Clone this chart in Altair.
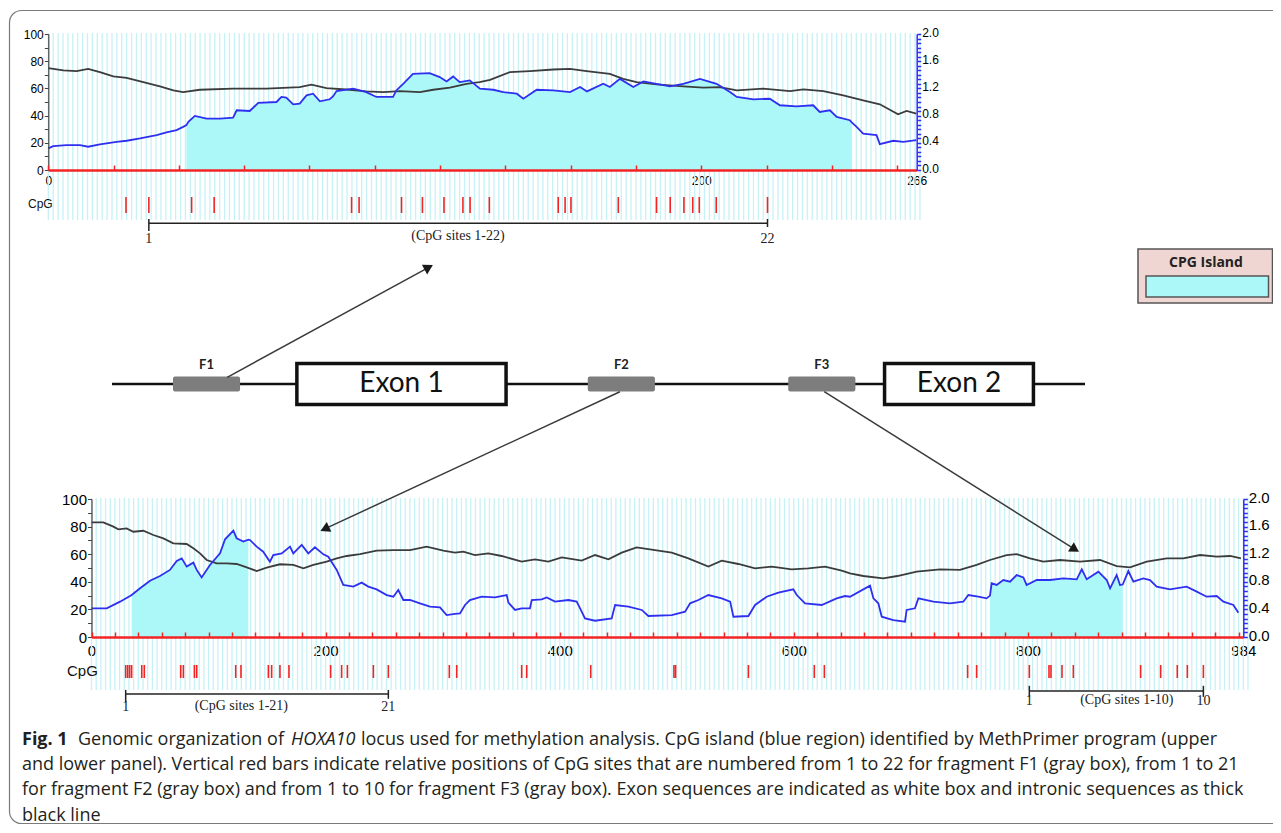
import math
import altair as alt
import pandas as pd

W, H = 1265, 817

# ------------------------------------------------------------------
# DATA
# ------------------------------------------------------------------
# upper panel: fragment F1 region, 266 bp
top_len = 266
top_black_pos = [0, 4.6, 8.7, 12.2, 15.8, 19.9, 24, 29.1, 34.2, 38.3,
                 41.3, 46.4, 56.6, 66.8, 77, 80.6, 85.2, 92.3, 97.4, 102.6,
                 107.7, 113.8, 117.9, 123, 128.1, 132.1, 135.3, 141.4, 147.5, 154.7,
                 159.8, 164.9, 172, 176.1, 180.2, 186.3, 194.5, 200.6, 205.7, 210.9,
                 219, 227.2, 231.3, 237.4, 243.5, 249.6, 254.7, 260.3, 262.9, 265.9]
top_black_gc = [74.9, 73.2, 72.7, 74.4, 72, 68.8, 67.8, 64.6, 61.5, 58.5,
                57.3, 59, 59.8, 59.8, 61, 62.7, 60.2, 59, 57.8, 57.3,
                58, 57.3, 59, 60.5, 63.4, 64.6, 66.3, 72, 72.7, 73.9,
                74.4, 72.7, 70.7, 67, 64.6, 62.9, 61.5, 60.5, 61, 58.5,
                59.8, 58, 59.3, 58, 54.9, 51.2, 48.3, 41, 43.4, 41.5]
# blue curve, read against the left (0-100) axis; right axis = left / 50
top_blue_pos = [0, 1.5, 5.6, 9.7, 12.2, 15.8, 20.9, 24, 28.1, 33.2,
                36.2, 39.3, 41.3, 42.3, 42.9, 44.9, 48.5, 52.6, 56.6, 57.7,
                61.7, 64.3, 69.9, 71.4, 72.9, 75, 77, 79.1, 81.1, 83.2,
                86.2, 87.2, 88.3, 93.4, 97.4, 100.5, 105.6, 106.6, 108.7, 111.7,
                116.8, 119.9, 122, 124, 126, 129.1, 132.2, 136.3, 139.4, 143.5,
                145.5, 149.6, 154.7, 159.8, 162.9, 165, 170, 172, 175.1, 179.2,
                182.3, 186.3, 190.4, 194.5, 199.6, 204.7, 208.8, 210.9, 216, 221,
                224.1, 229.2, 234.3, 236.3, 239.4, 241.5, 245.5, 246.1, 247.6, 249.6,
                253.7, 254.7, 258.8, 261.9, 265.9]
top_blue_read = [15.9, 17.6, 18.3, 18.3, 17.1, 18.8, 20.7, 21.5, 23.2, 25.6,
                 27.6, 29.3, 31.7, 33.0, 35.4, 39.8, 37.8, 37.8, 38.5, 43.9,
                 43.4, 49.3, 50, 53.7, 53.2, 48.3, 48.8, 54.9, 56.1, 50.5,
                 52, 54.1, 58, 59.8, 57.3, 53.7, 53.7, 58.5, 63.4, 70.7,
                 71.2, 68.3, 65.1, 68.8, 64.6, 65.9, 59.8, 59, 57.3, 56.1,
                 52.4, 59, 58.5, 57.3, 61, 57.8, 63.4, 61, 67, 61,
                 65.1, 63.4, 61.5, 63.4, 67, 63.4, 57.3, 53.7, 52, 52.4,
                 47.6, 46.8, 47.6, 42.7, 43.9, 39, 36.6, 35.0, 31.7, 26.8,
                 25.6, 19, 21.5, 20.7, 22]
top_islands = [(42.3, 246.1)]
top_cpg = [23.8, 30.8, 43.9, 50.8, 92.9, 95.2, 108.2, 114.6, 121.2, 127.0,
           129.2, 135.1, 156.2, 158.3, 160.1, 174.6, 186.3, 190.5, 194.7, 197.4,
           199.4, 204.6, 220.3]
top_xlabels = [0, 200, 266]

# lower panel: fragments F2 / F3 region, 984 bp
bot_len = 984
bot_black_pos = [0, 10.1, 18.7, 22.9, 30, 35.7, 44.3, 52.8, 61.4, 69.9,
                 81.3, 87, 92.7, 98.4, 107, 115.5, 124, 132.6, 141.1, 149.6,
                 161, 172.4, 181, 189.5, 200.9, 209.5, 218, 229.4, 243.6, 257.9,
                 272.1, 286.3, 300.6,
                 310.5, 317.7, 327.6, 339, 350.4, 367.5, 378.9, 390.3, 401.7, 418.8,
                 430.2, 441.6, 453, 465.7, 481.4, 495.7, 509.9, 527, 538.4, 552.6,
                 566.9, 581.1, 598.2, 612.4, 626.7, 640.9,
                 648, 659.4, 676.4, 688.4, 705, 725, 741.9, 756.2, 767.6, 781.8,
                 790.4, 801.8, 813.2, 827.4, 844.5, 861.6, 875.8, 887.2, 901.5, 918.6,
                 932.8, 947.1, 961.3, 972.7, 982]
bot_black_gc = [83.1, 83.1, 80, 78, 78.7, 76.3, 77, 73.9, 71.5, 67.9,
                67.4, 64.3, 60.6, 55.8, 53.4, 53.4, 52.9, 50.5, 47.8, 50.2,
                52.7, 52.2, 49.8, 52.2, 54.6, 57, 58.7, 60.1, 62.6, 63,
                63, 65.5, 62.6,
                61.1, 61.8, 59.4, 60.6, 58.7, 54.6, 56.3, 54.6, 57.7, 55.3,
                59.4, 56.3, 61.1, 65, 63, 61.1, 57, 51, 55.3, 52.9,
                49.8, 51, 49, 49.8, 51, 48.1,
                46.1, 44.2, 42.5, 44.2, 47.3, 49, 48.6, 52.2, 55.8, 59.4,
                60.1, 57, 54.6, 55.8, 54.6, 55.8, 51.4, 50.5, 54.6, 57,
                57, 59.4, 58.2, 58.7, 57]
bot_blue_pos = [0, 13, 24.4, 32.9, 34.3, 41.5, 50, 58.5, 67, 72.8,
                77.1, 81.3, 87, 89.9, 94.1, 101.2, 109.8, 114.1, 121.2, 124,
                129.7, 134, 135.4, 141.1, 146.7, 152.4, 155.3, 162.5, 169.6, 172.4,
                179.6, 185.2, 190.9, 198.1, 202.3, 209.5, 215.1, 223.7, 230.8, 236.5,
                243.6, 252.2, 257.9, 262.1, 266.4, 272.1, 280.6, 289.2, 297.7, 303.4,
                310.5, 314.8, 319.1, 323.3, 333.3, 344.7, 354.7, 356.2, 361.8, 367.5,
                374.6, 376.1, 384.6, 388.9, 396, 407.4, 414.5, 417.4, 421.6, 430.2,
                444.4, 447.3, 458.7, 470.1, 475.7, 495.7, 507.1, 511.4, 518.5, 527,
                538.4, 545.6, 548.4, 561.2, 566.9, 576.8, 586.8, 599.6, 602.5, 609.6,
                623.8, 636.6, 643.7,
                648, 665.1, 668, 672.2, 675.1, 685, 695, 696.4, 703.5, 706.4,
                719.2, 733.4, 744.8, 749.1, 757.6, 764.7, 767.6, 769, 773.3, 779,
                784.7, 790.4, 796.1, 798.9, 807.5, 818.9, 830.3, 841.7, 846, 850.2,
                860.2, 867.3, 870.2, 875.8, 878.7, 881, 885.8, 890.1, 898.6, 904.3,
                910, 921.4, 935.6, 944.2, 952.7, 961.3, 967, 975.5, 979.8]
bot_blue_read = [20.8, 20.8, 25.6, 29.7, 30.5, 35.3, 40.8, 44.2, 48.6, 55.1,
                 57, 51, 53.9, 48.6, 43.2, 52.2, 60.6, 70.8, 77.1, 71.5,
                 69.1, 70.5, 70.3, 65.5, 61.8, 54.6, 59.4, 60.6, 65.5, 60.6,
                 66.7, 60.6, 65, 59.9, 58.2, 48.6, 37.7, 36.5, 39.4, 36.5,
                 34.5, 30.4, 29.2, 34, 26.8, 26.8, 24.4, 22, 21.5, 15.9,
                 16.7, 17.1, 23.2, 26.8, 29.2, 28.7, 30.4, 24.9, 19.6, 20.8,
                 20.8, 26.8, 27.3, 28.7, 25.6, 26.8, 25.6, 20.8, 13.5, 11.8,
                 13.5, 23.2, 22, 19.6, 15.2, 15.9, 18.4, 24.4, 26.8, 30.4,
                 28, 25.6, 14.7, 15.2, 23.2, 29.2, 32.1, 34.5, 30.4, 24.4,
                 23.2, 28, 29.7,
                 29.2, 37.2, 28, 24.4, 14.7, 12.3, 11.1, 19.6, 20.8, 28,
                 25.6, 24.4, 25.6, 30.4, 29.2, 28, 30, 38.9, 37.7, 41.3,
                 40.1, 44.9, 43.2, 37.7, 41.3, 41.3, 42.5, 41.8, 49, 41.8,
                 47.3, 41.3, 35.3, 44.9, 37.7, 38, 47.8, 40.1, 42.5, 41.3,
                 36.5, 34.5, 36.5, 32.9, 29.2, 29.7, 25.6, 23.2, 17.6]
bot_islands = [(34.3, 134), (767.6, 881)]
bot_cpg = [29.2, 30.9, 32.6, 34.3, 42.9, 45.1, 76.2, 78.5, 87.9, 89.9,
           123.2, 127.7, 151.1, 153.9, 161, 168.7, 204.3, 213.7, 218.6, 240.8,
           253.6, 305.7, 312.0, 367.5, 371.8, 426.5, 497.6, 499, 561.2, 617.5,
           626.1, 748.5, 756.2, 801.2, 818, 819.7, 829.1, 838.8, 896.3, 913.4,
           927.6, 936.2, 949.9]
bot_xlabels = [0, 200, 400, 600, 800, 984]

# CpG-site brackets: (first site index, last site index, label, end labels, label centre)
top_brackets = [(1, 22, "(CpG sites 1-22)", "1", "22", 125.5)]
bot_brackets = [(0, 20, "(CpG sites 1-21)", "1", "21", 128.0),
                (33, 42, "(CpG sites 1-10)", "1", "10", 884.5)]

# gene diagram (schematic units along the locus, 0-100)
intron_span = [0, 100]
fragments = ["F1", "F2", "F3"]
frag_start = [6.27, 48.9, 69.5]
frag_end = [13.16, 55.8, 76.4]
exons = ["Exon 1", "Exon 2"]
exon_start = [19.0, 79.4]
exon_end = [40.5, 94.7]
# arrows from fragment to panel (schematic x, vertical offset from the line)
arrow_x0 = [11.84, 52.2, 73.2]
arrow_y0 = [0.67, -0.77, -0.77]
arrow_x1 = [33.0, 21.4, 99.4]
arrow_y1 = [11.9, -14.7, -16.8]

caption_lines = [
    "and lower panel). Vertical red bars indicate relative positions of CpG sites that are numbered from 1 to 22 for fragment F1 (gray box), from 1 to 21",
    "for fragment F2 (gray box) and from 1 to 10 for fragment F3 (gray box). Exon sequences are indicated as white box and intronic sequences as thick",
    "black line",
]

# ------------------------------------------------------------------
# STYLE
# ------------------------------------------------------------------
NARROW = "Liberation Sans Narrow, Arial Narrow, Liberation Sans, Arial, sans-serif"
SERIF = "Liberation Serif, Times New Roman, DejaVu Serif, serif"
SANS = "Open Sans, Noto Sans, sans-serif"
LATO = "Lato, Open Sans, sans-serif"
RED = "#f52424"
BLUE = "#2f2ff0"
DARK = "#3c3c3c"
CYAN = "#acf8f8"
STRIPE = "#c6f2f6"

PX = alt.Scale(domain=[0, W], range=[0, W], nice=False, zero=False)
PY = alt.Scale(domain=[0, H], range=[0, H], nice=False, zero=False)


def sc(dom, rng):
    return alt.Scale(domain=dom, range=rng, nice=False, zero=False)


def page_text(rows, **kw):
    df = pd.DataFrame(rows, columns=["x", "y", "t"])
    return alt.Chart(df).mark_text(baseline="middle", **kw).encode(
        x=alt.X("x:Q", scale=PX, axis=None),
        y=alt.Y("y:Q", scale=PY, axis=None),
        text="t:N")


def panel(cfg):
    L = []
    xsc = sc([0, cfg["len"]], cfg["xr"])
    gsc = sc([0, 100], cfg["yr"])
    osc = alt.Scale(domain=[0, 2], range=cfg["yr"], nice=False, zero=True)
    tsc = sc([0, 1], cfg["tr"])
    fs = cfg["fs"]

    # background stripes
    n = int(cfg["len"] / cfg["step"]) + 2
    sdf = pd.DataFrame({"x": [i * cfg["step"] for i in range(n)]})
    sdf["lo"] = cfg["slo"]
    sdf["hi"] = cfg["shi"]
    L.append(alt.Chart(sdf).mark_rule(color=STRIPE, strokeWidth=1.3).encode(
        x=alt.X("x:Q", scale=xsc, axis=None),
        y=alt.Y("lo:Q", scale=gsc, axis=None), y2="hi:Q"))

    blue = pd.DataFrame({"x": cfg["bpos"], "r": [v / 50 for v in cfg["bval"]]})
    # CpG island fill (one area per island)
    for a, b in cfg["islands"]:
        seg = blue[(blue.x >= a) & (blue.x <= b)].copy()
        L.append(alt.Chart(seg).mark_area(color=CYAN, opacity=1).encode(
            x=alt.X("x:Q", scale=xsc, axis=None),
            y=alt.Y("r:Q", scale=osc, axis=None, stack=None)))

    # black curve with left axis and x labels
    kdf = pd.DataFrame({"x": cfg["kpos"], "v": cfg["kval"]})
    L.append(alt.Chart(kdf).mark_line(color=DARK, strokeWidth=1.8).encode(
        x=alt.X("x:Q", scale=xsc, axis=alt.Axis(
            orient="bottom", offset=-(H - cfg["yr"][0]), values=cfg["xlabels"],
            domain=False, ticks=False, labelFont=NARROW, labelFontSize=fs,
            labelColor="black", labelPadding=cfg["xpad"], grid=False, title=None,
            labelOverlap=False, labelFlush=False)),
        y=alt.Y("v:Q", scale=gsc, axis=alt.Axis(
            orient="left", offset=-cfg["xr"][0], values=list(range(0, 101, 10)),
            labelExpr="datum.value % 20 == 0 ? datum.label : ''",
            domainColor="#444", domainWidth=1.2, tickColor="#444", tickSize=4,
            tickWidth=1, labelFont=NARROW, labelFontSize=fs, labelColor="black",
            labelPadding=1, grid=False, title=None, labelOverlap=False, zindex=1))))

    # blue curve with right axis and red position axis
    rvals = [round(i * 2 / 30, 4) for i in range(31)]
    L.append(alt.Chart(blue).mark_line(color=BLUE, strokeWidth=1.8).encode(
        x=alt.X("x:Q", scale=xsc, axis=alt.Axis(
            orient="top", offset=-cfg["yr"][0],
            values=list(range(0, cfg["len"] + 1, 20)), labels=False,
            domainColor=RED, domainWidth=2.5, tickColor=RED, tickWidth=1.5,
            tickSize=5, grid=False, title=None, zindex=2)),
        y=alt.Y("r:Q", scale=osc, axis=alt.Axis(
            orient="right", offset=-(W - cfg["xr"][1]), values=rvals,
            labelExpr="round(datum.value*15) % 6 == 0 ? format(datum.value, '.1f') : ''",
            domainColor=BLUE, domainWidth=1.5, tickColor=BLUE, tickWidth=1.5,
            tickSize=4, labelFont=NARROW, labelFontSize=fs, labelColor="black",
            labelPadding=1, labelOffset=-2, grid=False, title=None, labelOverlap=False,
            zindex=2))))

    # CpG sites
    cdf = pd.DataFrame({"x": cfg["cpg"]})
    cdf["a"] = 0
    cdf["b"] = 1
    L.append(alt.Chart(cdf).mark_rule(color=RED, strokeWidth=1.6).encode(
        x=alt.X("x:Q", scale=xsc, axis=None),
        y=alt.Y("a:Q", scale=tsc, axis=None), y2="b:Q"))

    # brackets
    for (i0, i1, lab, l0, l1, lx), g in zip(cfg["brackets"], cfg["bgeom"]):
        x0, x1 = cfg["cpg"][i0], cfg["cpg"][i1]
        ly, t0a, t0b, t1a, t1b, ny, ty = g
        hdf = pd.DataFrame({"a": [x0], "b": [x1], "y": [ly]})
        L.append(alt.Chart(hdf).mark_rule(color="#222", strokeWidth=1.5).encode(
            x=alt.X("a:Q", scale=xsc, axis=None), x2="b:Q",
            y=alt.Y("y:Q", scale=tsc, axis=None)))
        edf = pd.DataFrame({"x": [x0, x1], "lo": [t0a, t1a], "hi": [t0b, t1b]})
        L.append(alt.Chart(edf).mark_rule(color="#222", strokeWidth=1.5).encode(
            x=alt.X("x:Q", scale=xsc, axis=None),
            y=alt.Y("lo:Q", scale=tsc, axis=None), y2="hi:Q"))
        ndf = pd.DataFrame({"x": [x0, x1, lx], "y": [ny, ny, ty], "t": [l0, l1, lab]})
        L.append(alt.Chart(ndf).mark_text(font=SERIF, fontSize=cfg["sfs"], color="#222",
                                          baseline="middle").encode(
            x=alt.X("x:Q", scale=xsc, axis=None),
            y=alt.Y("y:Q", scale=tsc, axis=None), text="t:N"))
    return L


top_cfg = dict(len=top_len, xr=[40.3, 908.7], yr=[162, 26], tr=[205, 189], fs=12, sfs=14,
               step=1.5, slo=-36.8, shi=100.7, xpad=5,
               kpos=top_black_pos, kval=top_black_gc, bpos=top_blue_pos, bval=top_blue_read,
               islands=top_islands, cpg=top_cpg, xlabels=top_xlabels,
               brackets=top_brackets,
               bgeom=[(-0.64, -0.375, -1.125, -0.375, -0.875, -1.6, -1.45)])
bot_cfg = dict(len=bot_len, xr=[83.5, 1235.3], yr=[629, 491], tr=[670, 657], fs=15, sfs=14,
               step=4, slo=-38.4, shi=100.7, xpad=6,
               kpos=bot_black_pos, kval=bot_black_gc, bpos=bot_blue_pos, bval=bot_blue_read,
               islands=bot_islands, cpg=bot_cpg, xlabels=bot_xlabels,
               brackets=bot_brackets,
               bgeom=[(-1.23, -0.92, -1.85, -0.92, -1.6, -2.2, -2.15),
                      (-1.0, -0.6, -1.45, -0.6, -1.45, -1.8, -1.7)])

layers = []

# figure frame
frame = pd.DataFrame({"x": [1.5], "x2": [1400], "y": [2.5], "y2": [815.5]})
layers.append(alt.Chart(frame).mark_rect(fillOpacity=0, stroke="#7a7a7a", strokeWidth=1.2,
                                         cornerRadius=12).encode(
    x=alt.X("x:Q", scale=PX, axis=None), x2="x2:Q",
    y=alt.Y("y:Q", scale=PY, axis=None), y2="y2:Q"))

layers += panel(top_cfg)
layers += panel(bot_cfg)

# CpG row labels
layers.append(page_text([(20, 196, "CpG")], align="left", font=NARROW, fontSize=12, color="#111"))
layers.append(page_text([(59, 663, "CpG")], align="left", font=NARROW, fontSize=15, color="#111"))

# ---------------- gene diagram ----------------
DXR = [104, 1077]
DYR = [676, 76]
dx = sc([0, 100], DXR)
dy = sc([-30, 30], DYR)
PPX = (DXR[1] - DXR[0]) / 100.0
PPY = (DYR[0] - DYR[1]) / 60.0

idf = pd.DataFrame({"a": [intron_span[0]], "b": [intron_span[1]], "y": [0]})
layers.append(alt.Chart(idf).mark_rule(color="#111", strokeWidth=2.6).encode(
    x=alt.X("a:Q", scale=dx, axis=None), x2="b:Q", y=alt.Y("y:Q", scale=dy, axis=None)))

fdf = pd.DataFrame({"a": frag_start, "b": frag_end, "lo": -0.75, "hi": 0.75, "name": fragments})
fdf["mid"] = (fdf.a + fdf.b) / 2
fdf["ly"] = 1.9
layers.append(alt.Chart(fdf).mark_rect(color="#7d7d7d", cornerRadius=2).encode(
    x=alt.X("a:Q", scale=dx, axis=None), x2="b:Q",
    y=alt.Y("lo:Q", scale=dy, axis=None), y2="hi:Q"))
layers.append(alt.Chart(fdf).mark_text(font=LATO, fontSize=13, fontWeight="bold", color="#222",
                                       baseline="middle").encode(
    x=alt.X("mid:Q", scale=dx, axis=None), y=alt.Y("ly:Q", scale=dy, axis=None), text="name:N"))

edf = pd.DataFrame({"a": exon_start, "b": exon_end, "lo": -2.05, "hi": 2.05, "name": exons})
edf["mid"] = (edf.a + edf.b) / 2
edf["ly"] = 0
layers.append(alt.Chart(edf).mark_rect(fill="white", stroke="#111", strokeWidth=3.5).encode(
    x=alt.X("a:Q", scale=dx, axis=None), x2="b:Q",
    y=alt.Y("lo:Q", scale=dy, axis=None), y2="hi:Q"))
layers.append(alt.Chart(edf).mark_text(font=LATO, fontSize=28, color="#111",
                                       baseline="middle").encode(
    x=alt.X("mid:Q", scale=dx, axis=None), y=alt.Y("ly:Q", scale=dy, axis=None), text="name:N"))

# arrows
rows = []
for x0, y0, x1, y1 in zip(arrow_x0, arrow_y0, arrow_x1, arrow_y1):
    px, py = (x1 - x0) * PPX, (y1 - y0) * PPY
    d = math.hypot(px, py)
    ux, uy = px / d, py / d
    back = 5.0
    hx, hy = x1 - ux * back / PPX, y1 - uy * back / PPY
    ang = math.degrees(math.atan2(px, py)) % 360
    rows.append((x0, y0, hx, hy, ang))
adf = pd.DataFrame(rows, columns=["x0", "y0", "x1", "y1", "ang"])
layers.append(alt.Chart(adf).mark_rule(color="#3a3a3a", strokeWidth=1.5).encode(
    x=alt.X("x0:Q", scale=dx, axis=None), x2="x1:Q",
    y=alt.Y("y0:Q", scale=dy, axis=None), y2="y1:Q"))
layers.append(alt.Chart(adf).mark_point(shape="triangle-up", filled=True, size=120,
                                        color="#1a1a1a", opacity=1).encode(
    x=alt.X("x1:Q", scale=dx, axis=None), y=alt.Y("y1:Q", scale=dy, axis=None),
    angle=alt.Angle("ang:Q", scale=None)))

# ---------------- legend ----------------
lg = pd.DataFrame({"x": [1130, 1138], "x2": [1264.5, 1260.5], "y": [241, 268], "y2": [295, 289],
                   "k": ["box", "swatch"]})
layers.append(alt.Chart(lg).mark_rect(stroke="#555", strokeWidth=1.5).encode(
    x=alt.X("x:Q", scale=PX, axis=None), x2="x2:Q",
    y=alt.Y("y:Q", scale=PY, axis=None), y2="y2:Q",
    fill=alt.Fill("k:N", scale=alt.Scale(domain=["box", "swatch"], range=["#f0d6d3", CYAN]),
                  legend=None)))
layers.append(page_text([(1198, 255, "CPG Island")], align="center", font=SANS, fontSize=14,
                        fontWeight="bold", color="#222"))

# ---------------- caption ----------------
CAP = 18
layers.append(page_text([(14, 732, "Fig. 1")], align="left", font=SANS, fontSize=CAP,
                        fontWeight="bold", color="#231f20"))
layers.append(page_text([(70, 732, "Genomic organization of")], align="left", font=SANS,
                        fontSize=CAP, color="#231f20"))
layers.append(page_text([(283, 732, "HOXA10")], align="left", font=SANS, fontSize=CAP,
                        fontStyle="italic", color="#231f20"))
layers.append(page_text([(353, 732, "locus used for methylation analysis. CpG island (blue region) identified by MethPrimer program (upper")],
                        align="left", font=SANS, fontSize=CAP, color="#231f20"))
layers.append(page_text([(14, 757 + 25.3 * i, t) for i, t in enumerate(caption_lines)],
                        align="left", font=SANS, fontSize=CAP, color="#231f20"))

chart = alt.layer(*layers).resolve_scale(x="independent", y="independent").properties(
    width=W, height=H, autosize=alt.AutoSizeParams(type="none"), padding=0,
    background="white").configure_view(stroke=None)

chart.save("out.html", embed_options={"renderer": "svg", "actions": False})
